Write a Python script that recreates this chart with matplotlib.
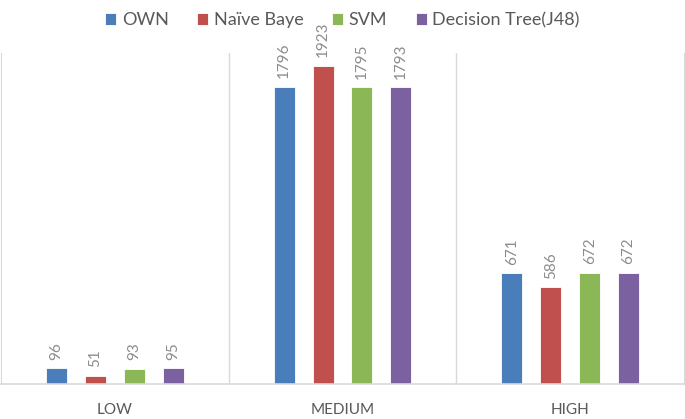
import numpy as np
import matplotlib.pyplot as plt

# Data
categories = ['LOW', 'MEDIUM', 'HIGH']
series = ['OWN', 'Naïve Baye', 'SVM', 'Decision Tree(J48)']
own = [96, 1796, 671]
naive = [51, 1923, 586]
svm = [93, 1795, 672]
j48 = [95, 1793, 672]
values = [own, naive, svm, j48]
colors = ['#4A7EBB', '#C0504D', '#8BB757', '#7B61A0']

plt.rcParams['font.family'] = ['Lato', 'DejaVu Sans']

fig = plt.figure(figsize=(6.85, 4.19), dpi=100)
ax = fig.add_axes([1 / 685, 35 / 419, 683 / 685, 331 / 419])

x = np.arange(len(categories))
width = 0.092
step = 0.171
for i, (name, vals, col) in enumerate(zip(series, values, colors)):
    pos = x + (i - 1.5) * step
    bars = ax.bar(pos, vals, width, color=col, label=name,
                  edgecolor='white', linewidth=0.6)
    for b, v in zip(bars, vals):
        ax.annotate(str(v), (b.get_x() + b.get_width() / 2, v),
                    xytext=(0, 6), textcoords='offset points',
                    rotation=90, ha='center', va='bottom',
                    fontsize=11, color='#8C8C8C')

ax.set_xlim(-0.5, 2.5)
ax.set_ylim(0, 2000)
ax.set_yticks([])
ax.set_xticks(x)
ax.set_xticklabels(categories, fontsize=11, color='#595959')
ax.tick_params(axis='x', length=0, pad=14)

for sp in ['top']:
    ax.spines[sp].set_visible(False)
for sp in ['left', 'right']:
    ax.spines[sp].set_color('#D9D9D9')
ax.spines['bottom'].set_color('#D9D9D9')
ax.spines['bottom'].set_linewidth(1.2)
for xv in [0.5, 1.5]:
    ax.axvline(xv, color='#D9D9D9', linewidth=1)

fig.legend(loc='upper center', bbox_to_anchor=(0.5, 1.01), ncol=4,
           frameon=False, fontsize=13, handlelength=0.6, handleheight=0.6,
           handletextpad=0.3, columnspacing=1.6, labelcolor='#595959')

plt.savefig('out.png', dpi=100)
